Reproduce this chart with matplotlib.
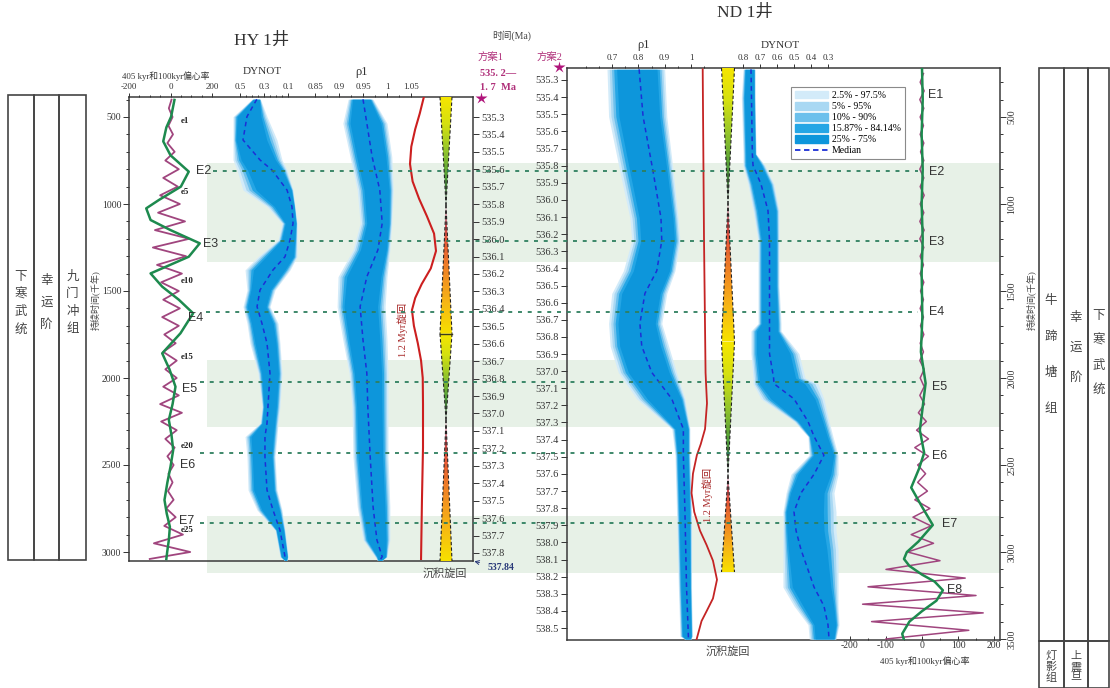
"""Astronomical tuning of wells HY 1 and ND 1: DYNOT / rho1 uncertainty bands,
405 kyr and 100 kyr eccentricity, 1.2 Myr cycle and the two time scales."""
import matplotlib.pyplot as plt
import numpy as np
from matplotlib.colors import LinearSegmentedColormap
from matplotlib.lines import Line2D
from matplotlib.patches import Patch, Polygon, Rectangle
from matplotlib.ticker import FixedLocator

plt.rcParams['font.family'] = ['Liberation Serif', 'Noto Sans CJK SC']
plt.rcParams['axes.unicode_minus'] = False

# ---------------------------------------------------------------- data
# 405 kyr eccentricity maxima (kyr) and shaded intervals
E_KYR = [405, 810, 1215, 1620, 2025, 2430, 2835, 3240]
E_NAMES = ['E1', 'E2', 'E3', 'E4', 'E5', 'E6', 'E7', 'E8']
BANDS_KYR = [(764, 1333), (1897, 2282), (2793, 3121)]

# HY 1 DYNOT: median and 2.5-97.5 % envelope
HY_DYN_KYR = [398, 498, 632, 747, 805, 920, 1015, 1111, 1207, 1303, 1379, 1494, 1590,
              1686, 1801, 1973, 2165, 2260, 2337, 2452, 2644, 2759, 2874, 3027, 3048]
HY_DYN_MED = [0.36, 0.442, 0.475, 0.333, 0.233, 0.108, 0.067, 0.058, 0.083, 0.125, 0.225,
              0.333, 0.358, 0.317, 0.275, 0.25, 0.267, 0.275, 0.292, 0.292, 0.275, 0.225,
              0.167, 0.125, 0.12]
HY_DYN_LO = [0.33, 0.275, 0.192, 0.15, 0.108, 0.058, 0.042, 0.025, 0.025, 0.025, 0.083,
             0.208, 0.25, 0.183, 0.167, 0.15, 0.167, 0.183, 0.192, 0.208, 0.192, 0.15,
             0.125, 0.1, 0.11]
HY_DYN_HI = [0.40, 0.558, 0.558, 0.558, 0.525, 0.475, 0.275, 0.15, 0.183, 0.35, 0.458,
             0.442, 0.475, 0.442, 0.417, 0.35, 0.317, 0.333, 0.458, 0.442, 0.433, 0.358,
             0.208, 0.167, 0.13]

# HY 1 rho1
HY_RHO_KYR = [398, 536, 728, 920, 1111, 1264, 1418, 1590, 1782, 1973, 2165, 2452, 2740,
              2931, 3027, 3048]
HY_RHO_MED = [0.95, 0.958, 0.969, 0.985, 0.99, 0.981, 0.958, 0.944, 0.95, 0.958, 0.96,
              0.965, 0.971, 0.979, 0.99, 0.985]
HY_RHO_LO = [0.919, 0.908, 0.923, 0.938, 0.944, 0.929, 0.898, 0.896, 0.908, 0.921, 0.927,
             0.929, 0.938, 0.95, 0.975, 0.98]
HY_RHO_HI = [0.971, 1.0, 1.01, 1.013, 1.01, 1.006, 1.0, 0.996, 1.0, 1.002, 1.002, 1.002,
             1.006, 1.006, 1.0, 0.99]

# ND 1 rho1
ND_RHO_KYR = [226, 497, 822, 1081, 1211, 1384, 1514, 1687, 1817, 1968, 2120, 2293, 2444,
              2769, 3202, 3483, 3500]
ND_RHO_MED = [0.803, 0.818, 0.857, 0.886, 0.889, 0.870, 0.825, 0.806, 0.813, 0.851,
              0.927, 0.971, 0.971, 0.977, 0.983, 0.990, 0.99]
ND_RHO_LO = [0.681, 0.687, 0.731, 0.768, 0.775, 0.743, 0.699, 0.687, 0.693, 0.724, 0.794,
             0.927, 0.939, 0.945, 0.952, 0.958, 0.975]
ND_RHO_HI = [0.90, 0.908, 0.933, 0.951, 0.958, 0.939, 0.908, 0.889, 0.915, 0.945, 0.977,
             0.996, 0.996, 1.002, 1.002, 1.005, 1.0]

# ND 1 DYNOT
ND_DYN_KYR = [226, 389, 713, 778, 886, 1038, 1211, 1471, 1687, 1730, 1860, 2000, 2033,
              2120, 2249, 2336, 2444, 2553, 2661, 2769, 2877, 2986, 3202, 3310, 3418, 3500]
ND_DYN_MED = [0.753, 0.75, 0.745, 0.741, 0.694, 0.653, 0.644, 0.644, 0.644, 0.644, 0.644,
              0.62, 0.618, 0.5, 0.418, 0.382, 0.324, 0.382, 0.459, 0.5, 0.488, 0.459,
              0.382, 0.324, 0.3, 0.294]
ND_DYN_LO = [0.729, 0.729, 0.723, 0.671, 0.618, 0.588, 0.588, 0.588, 0.576, 0.576, 0.471,
             0.435, 0.359, 0.324, 0.294, 0.271, 0.241, 0.241, 0.265, 0.253, 0.253, 0.241,
             0.241, 0.241, 0.235, 0.253]
ND_DYN_HI = [0.8, 0.81, 0.8, 0.8, 0.771, 0.741, 0.712, 0.712, 0.712, 0.753, 0.753, 0.741,
             0.741, 0.694, 0.5, 0.418, 0.412, 0.518, 0.547, 0.565, 0.565, 0.565, 0.565,
             0.5, 0.418, 0.41]

# HY 1 eccentricity: 405 kyr (green) and 100 kyr (purple)
HY_E405_KYR = [402, 498, 560, 640, 720, 814, 900, 977, 1025, 1092, 1150, 1226, 1303, 1399,
               1475, 1550, 1628, 1743, 1858, 1950, 2050, 2150, 2241, 2330, 2414, 2510,
               2600, 2701, 2780, 2855, 2931, 3000, 3040]
HY_E405_VAL = [19, 3, -20, -35, 0, 88, 50, -56, -117, -96, 0, 141, 88, -96, -40, 40, 109,
               48, -40, -5, 24, 10, -8, 5, 13, 0, -15, -29, -18, -3, -8, -16, -20]
HY_E100_KYR = [400, 450, 500, 550, 600, 650, 700, 750, 800, 850, 900, 950, 1000, 1050,
               1100, 1150, 1200, 1250, 1300, 1350, 1400, 1450, 1500, 1550, 1600, 1650,
               1700, 1750, 1800, 1850, 1900, 1950, 2000, 2050, 2100, 2150, 2200, 2250,
               2300, 2350, 2400, 2450, 2500, 2550, 2600, 2650, 2700, 2750, 2800, 2850,
               2900, 2950, 3000, 3040]
HY_E100_VAL = [5, -8, 10, -10, 12, -15, 20, -25, 40, -35, 35, -50, 45, -60, 70, -75, 90,
               -85, 75, -65, 55, -45, 40, -35, 45, -40, 40, -30, 25, -35, 30, -25, 30,
               -35, 40, -50, 55, -45, 30, -25, 20, -15, 15, -10, 10, -12, 15, -20, 25,
               -30, 60, -80, 95, -100]

# ND 1 eccentricity
ND_E405_KYR = [218, 400, 600, 800, 1000, 1200, 1400, 1650, 1850, 2030, 2200, 2300, 2430,
               2520, 2630, 2740, 2845, 2940, 3000, 3040, 3080, 3130, 3170, 3220, 3280,
               3340, 3400, 3470, 3506]
ND_E405_VAL = [0, 2, -1, 2, -1, 2, -1, 1, -3, 10, 0, -6, 6, -8, -30, 0, 30, -10, -42, -50,
               -35, 0, 35, 58, 40, 0, -35, -55, -50]
ND_E100_KYR = [250, 300, 350, 400, 450, 500, 550, 600, 650, 700, 750, 800, 850, 900, 950,
               1000, 1050, 1100, 1150, 1200, 1250, 1300, 1350, 1400, 1450, 1500, 1550,
               1600, 1650, 1700, 1750, 1800, 1850, 1900, 1950, 2000, 2050, 2100, 2150,
               2200, 2250, 2300, 2350, 2400, 2450, 2500, 2550, 2600, 2650, 2700, 2750,
               2800, 2850, 2900, 2950, 3000, 3050, 3100, 3150, 3200, 3250, 3300, 3350,
               3400, 3450, 3500]
ND_E100_VAL = [4, -5, 6, -6, 5, -5, 4, -5, 5, -4, 5, -6, 5, -5, 6, -5, 5, -6, 6, -6, 5,
               -5, 4, -5, 5, -4, 4, -5, 4, -4, 5, -5, 4, -6, 6, -5, 6, -6, 7, -10, 12,
               -15, 18, -20, 18, -12, 10, -12, 15, -20, 22, -25, 25, -30, 32, -40, 50,
               -100, 120, -150, 150, -165, 170, -140, 130, -100]

# 1.2 Myr cycle (relative amplitude)
HY_C12_KYR = [390, 480, 570, 670, 770, 870, 970, 1070, 1170, 1270, 1370, 1460, 1540, 1610,
              1700, 1800, 1900, 2000, 2150, 2400, 2700, 3040]
HY_C12_VAL = [0.05, -0.25, -0.6, -0.9, -1.0, -0.8, -0.3, 0.3, 0.85, 1.0, 0.6, -0.1, -0.6,
              -0.85, -0.7, -0.4, -0.15, -0.02, 0.0, 0.0, -0.08, -0.15]
ND_C12_KYR = [226, 1200, 1970, 2145, 2293, 2380, 2444, 2550, 2661, 2770, 2877, 2960, 3050,
              3159, 3267, 3340, 3397, 3505]
ND_C12_VAL = [-0.1, 0.0, 0.12, 0.23, 0.08, -0.25, -0.55, -0.85, -0.96, -0.75, -0.31, 0.2,
              0.69, 1.0, 0.69, 0.2, -0.19, -0.58]

# sedimentary cycles: (kyr, relative width) turning points
HY_SED_KYR = [385, 1005, 1745, 2240, 3052]
HY_SED_W = [1, 0, 1, 0, 1]
ND_SED_KYR = [218, 990, 1790, 2560, 3115]
ND_SED_W = [1, 0, 1, 0, 1]

HY_MA_TICKS = [535.3, 535.4, 535.5, 535.6, 535.7, 535.8, 535.9, 536.0, 536.1, 536.2, 536.3,
               536.4, 536.5, 536.6, 536.7, 536.8, 536.9, 537.0, 537.1, 537.2, 537.3, 537.4,
               537.5, 537.6, 537.7, 537.8]
ND_MA_TICKS = [535.3, 535.4, 535.5, 535.6, 535.7, 535.8, 535.9, 536.0, 536.1, 536.2, 536.3,
               536.4, 536.5, 536.6, 536.7, 536.8, 536.9, 537.0, 537.1, 537.2, 537.3, 537.4,
               537.5, 537.6, 537.7, 537.8, 537.9, 538.0, 538.1, 538.2, 538.3, 538.4, 538.5]

BAND_LABELS = ['2.5% - 97.5%', '5% - 95%', '10% - 90%', '15.87% - 84.14%', '25% - 75%']
BAND_COLORS = ['#d3ebf9', '#a9d8f3', '#6cc0ec', '#25a6e5', '#0d96db']
BAND_SCALE = [1.0, 0.93, 0.86, 0.79, 0.70]

# ---------------------------------------------------------------- layout
W, H = 1110, 688
PX_PER_KYR = 0.174
Y500 = 117

fig = plt.figure(figsize=(W / 100, H / 100), dpi=100)


def kyr_at(py):
    return 500 + (py - Y500) / PX_PER_KYR


def rect(x0, y0, x1, y1):
    return [x0 / W, 1 - y1 / H, (x1 - x0) / W, (y1 - y0) / H]


def ftext(x, y, s, **kw):
    kw.setdefault('ha', 'center')
    kw.setdefault('va', 'center')
    return fig.text(x / W, 1 - y / H, s, **kw)


def span(x0, x1, pa, va, pb, vb):
    s = (vb - va) / (pb - pa)
    return va + (x0 - pa) * s, va + (x1 - pa) * s


def column(x0, x1, y0, y1, lims):
    ax = fig.add_axes(rect(x0, y0, x1, y1))
    ax.set_xlim(*lims)
    ax.set_ylim(kyr_at(y1), kyr_at(y0))
    ax.patch.set_visible(False)
    for s in ax.spines.values():
        s.set_visible(False)
    ax.tick_params(left=False, labelleft=False, bottom=False, labelbottom=False)
    return ax


def scale_ticks(ax, major, labels, minor, where='top', direction='out'):
    ax.xaxis.set_ticks_position(where)
    ax.xaxis.set_major_locator(FixedLocator(major))
    ax.xaxis.set_minor_locator(FixedLocator(minor))
    ax.set_xticklabels(labels)
    top = where == 'top'
    ax.tick_params(axis='x', which='both', top=top, labeltop=top, bottom=not top,
                   labelbottom=not top, direction=direction, color='#333', width=0.7,
                   labelsize=6.5, labelcolor='#333', pad=1)
    ax.tick_params(axis='x', which='major', length=3)
    ax.tick_params(axis='x', which='minor', length=1.8)


def bands(ax, kyr, med, lo, hi):
    kyr, med, lo, hi = map(np.asarray, (kyr, med, lo, hi))
    for f, c in zip(BAND_SCALE, BAND_COLORS):
        ax.fill_betweenx(kyr, med - (med - lo) * f, med + (hi - med) * f, color=c, lw=0)
    ax.plot(med, kyr, color='#1c2fd6', lw=1.1, ls=(0, (3, 2.5)))


NARROW = LinearSegmentedColormap.from_list(
    'narrow', ['#f6e600', '#d4e010', '#93c52c', '#4e9a3a', '#33503c'])
WIDEN = LinearSegmentedColormap.from_list(
    'widen', ['#f6e000', '#f7b516', '#f08424', '#e0503a', '#a8386e'])


def sed_bar(ax, kyr, wid, mark=None):
    xl, yl = ax.get_xlim(), ax.get_ylim()
    for k0, w0, k1, w1 in zip(kyr[:-1], wid[:-1], kyr[1:], wid[1:]):
        grad = np.linspace(0, 1, 80)[:, None]
        if w1 > w0:
            grad = grad[::-1]
        poly = Polygon([(-w0, k0), (w0, k0), (w1, k1), (-w1, k1)], closed=True,
                       fc='none', ec='none')
        ax.add_patch(poly)
        im = ax.imshow(grad, extent=(-1, 1, k0, k1), origin='lower', aspect='auto',
                       cmap=NARROW if w1 < w0 else WIDEN, interpolation='bilinear')
        im.set_clip_path(poly)
        for sgn in (-1, 1):
            ax.plot([sgn * w0, sgn * w1], [k0, k1], color='#222', lw=0.8,
                    ls=(0, (3, 2)))
    if mark is not None:
        ax.plot([-1, 1], [mark, mark], color='#3a3a1a', lw=1.0)
    ax.set_xlim(*xl)
    ax.set_ylim(*yl)


# ---------------------------------------------------------------- background
bg = fig.add_axes([0, 0, 1, 1])
bg.set_xlim(0, W)
bg.set_ylim(kyr_at(H), kyr_at(0))
bg.axis('off')
for lo, hi in BANDS_KYR:
    bg.fill_between([207, 1000], lo, hi, color='#e7f1e7', lw=0)

# stratigraphic columns
for x0, x1 in [(8, 34), (34, 59), (59, 86)]:
    fig.patches.append(Rectangle((x0 / W, 1 - 560 / H), (x1 - x0) / W, 465 / H,
                                 transform=fig.transFigure, fill=False,
                                 ec='#444', lw=1.2))
for x0, x1 in [(1039, 1064), (1064, 1088), (1088, 1109)]:
    fig.patches.append(Rectangle((x0 / W, 1 - 641 / H), (x1 - x0) / W, 573 / H,
                                 transform=fig.transFigure, fill=False,
                                 ec='#444', lw=1.2))
    fig.patches.append(Rectangle((x0 / W, 0), (x1 - x0) / W, 47 / H,
                                 transform=fig.transFigure, fill=False,
                                 ec='#444', lw=1.2))
strat = dict(fontsize=9, color='#444', linespacing=1.6)
ftext(21, 303, '下\n寒\n武\n统', **strat)
ftext(46.5, 303, '幸\n运\n阶', linespacing=2.1, fontsize=9, color='#444')
ftext(72.5, 303, '九\n门\n冲\n组', **strat)
ftext(1051, 355, '牛\n蹄\n塘\n组', fontsize=9, color='#444', linespacing=3.6)
ftext(1076, 348, '幸\n运\n阶', fontsize=9, color='#444', linespacing=3.0)
ftext(1099, 353, '下\n寒\n武\n统', fontsize=9, color='#444', linespacing=2.4)
ftext(1051, 667, '灯\n影\n组', fontsize=8, color='#444', linespacing=1.1)
ftext(1076, 667, '上\n震\n旦', fontsize=8, color='#444', linespacing=1.1)

# ---------------------------------------------------------------- HY 1 panel
HY_Y0, HY_Y1 = 97, 561
axL = fig.add_axes(rect(129, HY_Y0, 473, HY_Y1))
axL.set_xlim(0, 1)
axL.set_ylim(kyr_at(HY_Y1), kyr_at(HY_Y0))
axL.patch.set_visible(False)
for s in axL.spines.values():
    s.set_color('#3a3a3a')
    s.set_linewidth(1.1)
axL.set_xticks([])
axL.yaxis.set_major_locator(FixedLocator([500, 1000, 1500, 2000, 2500, 3000]))
axL.yaxis.set_minor_locator(FixedLocator(np.arange(400, 3100, 100)))
axL.tick_params(axis='y', which='both', direction='out', color='#333', width=0.7,
                labelsize=7, labelcolor='#333', pad=1.5)
axL.tick_params(axis='y', which='major', length=4)
axL.tick_params(axis='y', which='minor', length=2)

hy_ma = axL.secondary_yaxis(
    'right', functions=(lambda k: 535.3 + (k - 500) * PX_PER_KYR / 174.4,
                        lambda m: 500 + (m - 535.3) * 174.4 / PX_PER_KYR))
hy_ma.yaxis.set_major_locator(FixedLocator(HY_MA_TICKS))
hy_ma.set_yticklabels([f'{m:.1f}' for m in HY_MA_TICKS])
hy_ma.tick_params(direction='out', length=4, width=0.7, color='#333', labelsize=7.5,
                  labelcolor='#333', pad=2)
hy_ma.spines['right'].set_visible(False)

ecc_l = column(129, 232, HY_Y0, HY_Y1, span(129, 232, 129, -200, 212, 200))
scale_ticks(ecc_l, [-200, 0, 200], ['-200', '0', '200'],
            [-150, -100, -50, 50, 100, 150])
ecc_l.plot(HY_E100_VAL, HY_E100_KYR, color='#a0457e', lw=1.3)
ecc_l.plot(HY_E405_VAL, HY_E405_KYR, color='#1d8a4e', lw=1.8)
for name, k in [('e1', 525), ('e5', 930), ('e10', 1440), ('e15', 1880), ('e20', 2390),
                ('e25', 2875)]:
    ecc_l.text(48, k, name, fontsize=6.5, fontweight='bold', color='#222',
               va='center', ha='left')

dyn_l = column(215, 305, HY_Y0, HY_Y1, span(215, 305, 240, 0.5, 288, 0.1))
scale_ticks(dyn_l, [0.5, 0.3, 0.1], ['0.5', '0.3', '0.1'], [0.45, 0.4, 0.35, 0.25, 0.2, 0.15])
bands(dyn_l, HY_DYN_KYR, HY_DYN_MED, HY_DYN_LO, HY_DYN_HI)

rho_l = column(305, 420, HY_Y0, HY_Y1, span(305, 420, 315, 0.85, 411, 1.05))
scale_ticks(rho_l, [0.85, 0.9, 0.95, 1.0, 1.05], ['0.85', '0.9', '0.95', '1', '1.05'],
            [0.875, 0.925, 0.975, 1.025])
bands(rho_l, HY_RHO_KYR, HY_RHO_MED, HY_RHO_LO, HY_RHO_HI)

c12_l = column(400, 440, HY_Y0, HY_Y1, span(400, 440, 410, -1, 436, 1))
c12_l.plot(HY_C12_VAL, HY_C12_KYR, color='#cc1f1f', lw=1.5)

sed_l = column(438, 454, HY_Y0, HY_Y1, span(438, 454, 440, -1, 452, 1))
sed_bar(sed_l, HY_SED_KYR, HY_SED_W, mark=1745)

# ---------------------------------------------------------------- ND 1 panel
ND_Y0, ND_Y1 = 68, 640
axR = fig.add_axes(rect(567, ND_Y0, 1000, ND_Y1))
axR.set_xlim(0, 1)
axR.set_ylim(kyr_at(ND_Y1), kyr_at(ND_Y0))
axR.patch.set_visible(False)
for s in axR.spines.values():
    s.set_color('#3a3a3a')
    s.set_linewidth(1.1)
axR.set_xticks([])
axR.yaxis.tick_right()
axR.yaxis.set_major_locator(FixedLocator([500, 1000, 1500, 2000, 2500, 3000, 3500]))
axR.yaxis.set_minor_locator(FixedLocator(np.arange(300, 3600, 100)))
axR.tick_params(axis='y', which='both', direction='out', color='#333', width=0.7,
                labelsize=7, labelcolor='#333', pad=1.5, labelrotation=90)
axR.tick_params(axis='y', which='major', length=4)
axR.tick_params(axis='y', which='minor', length=2)
for lab in axR.get_yticklabels():
    lab.set_va('center')

nd_ma = axR.secondary_yaxis(
    'left', functions=(lambda k: 535.3 + (37 + (k - 500) * PX_PER_KYR) / 171.25,
                       lambda m: 500 + ((m - 535.3) * 171.25 - 37) / PX_PER_KYR))
nd_ma.yaxis.set_major_locator(FixedLocator(ND_MA_TICKS))
nd_ma.set_yticklabels([f'{m:.1f}' for m in ND_MA_TICKS])
nd_ma.tick_params(direction='out', length=4, width=0.7, color='#333', labelsize=7.5,
                  labelcolor='#333', pad=2)
nd_ma.spines['left'].set_visible(False)

rho_r = column(567, 712, ND_Y0, ND_Y1, span(567, 712, 612, 0.7, 691, 1.0))
scale_ticks(rho_r, [0.7, 0.8, 0.9, 1.0], ['0.7', '0.8', '0.9', '1'],
            [0.6, 0.65, 0.75, 0.85, 0.95, 1.05])
bands(rho_r, ND_RHO_KYR, ND_RHO_MED, ND_RHO_LO, ND_RHO_HI)

c12_r = column(685, 722, ND_Y0, ND_Y1, span(685, 722, 691, -1, 717, 1))
c12_r.plot(ND_C12_VAL, ND_C12_KYR, color='#c42424', lw=1.3)

sed_r = column(720, 737, ND_Y0, ND_Y1, span(720, 737, 721.5, -1, 734.5, 1))
sed_bar(sed_r, ND_SED_KYR, ND_SED_W)

dyn_r = column(737, 850, ND_Y0, ND_Y1, span(737, 850, 743, 0.8, 828, 0.3))
scale_ticks(dyn_r, [0.8, 0.7, 0.6, 0.5, 0.4, 0.3],
            ['0.8', '0.7', '0.6', '0.5', '0.4', '0.3'], [])
bands(dyn_r, ND_DYN_KYR, ND_DYN_MED, ND_DYN_LO, ND_DYN_HI)

ecc_r = column(845, 1000, ND_Y0, ND_Y1, span(845, 1000, 850, -200, 994, 200))
scale_ticks(ecc_r, [-200, -100, 0, 100, 200], ['-200', '-100', '0', '100', '200'],
            [-150, -50, 50, 150], where='bottom', direction='in')
ecc_r.tick_params(axis='x', labelsize=7)
ecc_r.plot(ND_E100_VAL, ND_E100_KYR, color='#a0457e', lw=1.1)
ecc_r.plot(ND_E405_VAL, ND_E405_KYR, color='#1d8a4e', lw=1.8)

leg = axR.legend([Patch(color=c) for c in BAND_COLORS] +
                 [Line2D([], [], color='#1c2fd6', lw=1.3, ls=(0, (3, 2)))],
                 BAND_LABELS + ['Median'], loc='upper left',
                 bbox_to_anchor=(0.506, 0.975), fontsize=7, handlelength=3.4,
                 handleheight=0.8, labelspacing=0.2, borderpad=0.4,
                 handletextpad=0.4, fancybox=False, framealpha=1,
                 edgecolor='#8a8a8a')
leg.get_frame().set_linewidth(0.8)

# ---------------------------------------------------------------- E lines on top
fg = fig.add_axes([0, 0, 1, 1])
fg.set_xlim(0, W)
fg.set_ylim(kyr_at(H), kyr_at(0))
fg.axis('off')
fg.hlines(E_KYR[1:7], [213, 222, 206, 200, 200, 200], 918, color='#2f7f5f', lw=1.3,
          linestyles=[(0, (2.2, 3.2))])
e_font = dict(family='Liberation Sans', fontsize=9, color='#333', va='center')
for name, x, y in zip(E_NAMES[1:7], [204, 211, 196, 190, 188, 187],
                      [171, 244, 318, 389, 465, 521]):
    fg.text(x, kyr_at(y), name, ha='center', **e_font)
for name, x, y in zip(E_NAMES, [936, 937, 937, 937, 940, 940, 950, 955],
                      [95, 172, 242, 312, 387, 456, 524, 590]):
    fg.text(x, kyr_at(y), name, ha='center', **e_font)

# stars marking the top of each time scale
fg.plot([481], [kyr_at(98)], marker='*', ms=9, color='#b0147a', mec='none')
fg.plot([559], [kyr_at(67)], marker='*', ms=9, color='#b0147a', mec='none')

# ---------------------------------------------------------------- text
ftext(262, 41, 'HY 1井', fontsize=12.5, color='#333')
ftext(745, 13, 'ND 1井', fontsize=12.5, color='#333')
ftext(166, 76, '405 kyr和100kyr偏心率', fontsize=6.3, color='#333')
ftext(262, 72, 'DYNOT', fontsize=8, color='#333')
ftext(362, 72, 'ρ1', fontsize=9, color='#333')
ftext(643, 45, 'ρ1', fontsize=9, color='#333')
ftext(780, 45, 'DYNOT', fontsize=8, color='#333')
ftext(512, 36, '时间(Ma)', fontsize=7, color='#444')
ftext(490, 57, '方案1', fontsize=7.5, color='#b0307a')
ftext(549, 57, '方案2', fontsize=7.5, color='#b0307a')
ftext(498, 74, '535. 2—', fontsize=7.5, color='#b0307a', fontweight='bold')
ftext(498, 88, '1. 7  Ma', fontsize=7.5, color='#b0307a', fontweight='bold')
ftext(445, 573, '沉积旋回', fontsize=8, color='#444')
ftext(728, 651, '沉积旋回', fontsize=8, color='#444')
ftext(925, 661, '405 kyr和100kyr偏心率', fontsize=6.5, color='#333')
ftext(95, 300, '持续时间(千年)', fontsize=6.5, color='#444', rotation=90)
ftext(1031, 300, '持续时间(千年)', fontsize=6.5, color='#444', rotation=90)
c12_l.text(-1.6, kyr_at(330), '1.2 Myr旋回', rotation=90, fontsize=7.5,
           color='#a82a2a', ha='center', va='center')
c12_r.text(0.3, kyr_at(495), '1.2 Myr旋回', rotation=90, fontsize=7.5,
           color='#a82a2a', ha='center', va='center')
axL.annotate('537.84', xy=(1.0, 0.0), xycoords='axes fraction',
             xytext=(501, H - 568), textcoords='figure pixels', fontsize=7,
             color='#2a3a7a', fontweight='bold', ha='center', va='center',
             arrowprops=dict(arrowstyle='->', color='#2a3a7a', lw=0.7,
                             shrinkA=4, shrinkB=1))

fig.savefig('out.png', dpi=100)
